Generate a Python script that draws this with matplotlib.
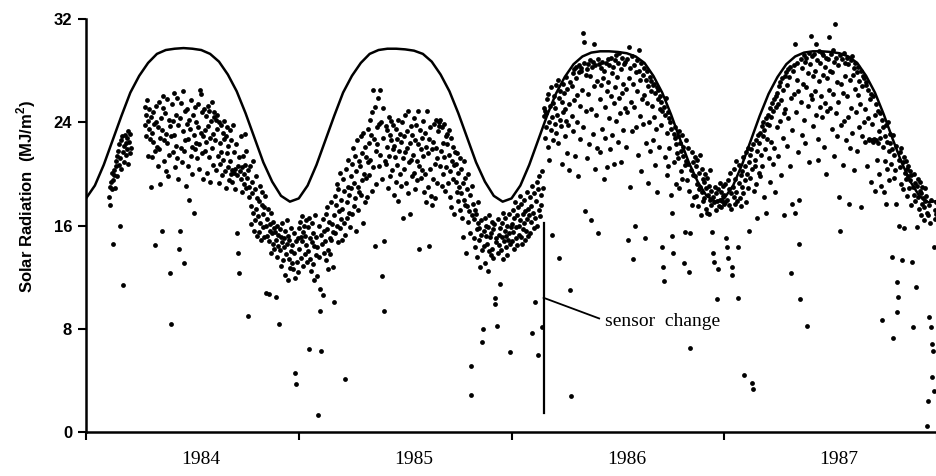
import numpy as np
import matplotlib.pyplot as plt

nan = np.nan

# daily solar radiation (MJ/m2)
# 1984 starts on day 40 (10 Feb); gap in late March / early April
rad_1984 = [
    18.2, 17.6, 19.0, 19.4, 18.8, 20.1, 14.6, 19.5, 20.3, 19.9, 18.9, 21.0, 20.6, 19.8, 21.4,
    21.8, 20.7, 22.3, 16.0, 21.2, 22.6, 20.4, 22.9, 11.4, 21.7, 22.2, 20.9, 23.0, 21.5, 22.4,
    22.8, 21.9, 23.3, 20.8, 22.5, 21.6, 23.1, 22.0, nan, nan, nan, nan, nan, nan, nan,
    nan, nan, nan, nan, nan, nan, nan, nan, nan, nan, nan, nan, nan, nan, nan,
    nan, 23.8, 25.2, 24.6, 22.9, 25.7, 24.1, 21.4, 23.5, 25.0, 22.7, 19.0, 24.4, 23.2, 21.3,
    22.5, 24.8, 23.9, 14.5, 21.8, 25.3, 24.0, 22.1, 20.6, 23.6, 25.6, 21.9, 19.2, 22.8, 24.3,
    23.4, 15.6, 25.1, 26.0, 22.6, 21.0, 24.7, 23.1, 20.2, 25.8, 22.4, 19.8, 24.2, 21.5, 23.7,
    12.3, 22.9, 8.4, 25.4, 24.1, 21.7, 26.3, 23.0, 20.5, 24.6, 22.2, 25.9, 21.2, 23.8, 19.6,
    14.2, 15.6, 24.3, 22.0, 25.5, 20.9, 26.4, 23.3, 13.1, 21.8, 24.9, 22.6, 19.1, 23.9, 25.0,
    22.7, 20.6, 24.2, 18.0, 23.5, 21.4, 25.7, 22.1, 20.0, 24.6, 23.0, 17.0, 21.9, 25.2, 22.4,
    24.0, 21.2, 23.6, 25.4, 22.3, 20.4, 26.5, 26.2, 23.2, 21.6, 24.8, 22.9, 19.6, 25.0, 23.4,
    21.8, 24.5, 22.5, 20.1, 25.3, 23.7, 21.3, 24.9, 22.8, 19.4, 24.1, 22.0, 25.6, 23.1, 20.7,
    24.4, 24.8, 22.6, 24.2, 20.3, 23.5, 24.6, 21.4, 19.3, 24.0, 22.4, 20.8, 23.8, 21.7, 19.9,
    23.2, 21.1, 22.7, 24.1, 20.2, 18.9, 22.9, 21.6, 23.6, 20.5, 22.2, 19.5, 21.0, 23.4, 20.0,
    22.6, 20.3, 19.4, 23.8, 20.1, 21.7, 18.8, 20.4, 22.3, 19.9, 15.4, 13.9, 20.6, 12.3, 21.3,
    20.2, 19.6, 22.9, 20.5, 18.6, 21.4, 20.0, 19.2, 23.1, 20.7, 18.9, 21.8, 19.7, 9.0, 20.3,
    19.0, 18.2, 20.6, 17.5, 16.1, 19.4, 18.5, 21.0, 17.0, 15.6, 18.8, 16.4, 19.8, 17.3, 15.2,
    18.1, 16.7, 17.9, 15.5, 19.1, 16.2, 14.9, 17.6, 18.6, 15.9, 16.9, 15.1, 17.4, 18.3, 16.0,
    10.8, 16.5, 15.2, 17.3, 10.7, 14.8, 16.1, 15.6, 13.9, 17.0, 15.4, 14.6, 16.3, 15.8, 14.2,
    15.5, 10.5, 14.9, 16.0, 13.6, 15.3, 14.4, 8.4, 15.7, 14.1, 12.9, 15.1, 16.2, 14.7, 13.3,
    15.0, 14.3, 12.2, 15.6, 13.8, 16.4, 14.6, 11.8, 15.2, 13.4, 14.9, 12.7, 15.8, 14.0, 13.1,
    14.5, 12.6, 15.4, 13.9, 11.9, 4.6, 3.7, 14.8, 13.2, 15.0, 12.4,
]

rad_1985 = [
    15.8, 14.2, 16.3, 13.5, 15.1, 16.7, 14.8, 12.9, 15.5, 16.0, 13.8, 15.2, 14.5, 16.4, 13.2,
    15.9, 14.0, 6.4, 16.6, 13.4, 15.0, 12.5, 14.7, 16.2, 13.0, 15.4, 11.8, 14.4, 16.8, 13.7,
    15.1, 14.3, 12.1, 1.3, 16.0, 13.6, 11.1, 9.4, 15.3, 6.3, 14.6, 10.6, 16.5, 13.9, 15.6,
    14.8, 16.9, 13.3, 15.7, 17.4, 14.1, 12.6, 16.3, 15.0, 13.8, 17.8, 14.9, 16.1, 12.8, 15.5,
    10.1, 16.8, 18.3, 15.4, 17.6, 19.2, 16.0, 14.7, 18.8, 17.1, 15.8, 20.1, 16.5, 18.0, 14.9,
    17.3, 19.6, 16.2, 18.7, 15.3, 4.1, 20.4, 17.8, 16.6, 19.0, 21.1, 17.0, 18.4, 15.9, 19.8,
    18.9, 20.8, 16.9, 22.0, 19.3, 17.5, 21.4, 18.1, 15.6, 20.2, 22.6, 19.0, 17.2, 21.0, 18.6,
    20.6, 22.9, 18.4, 21.6, 19.5, 16.2, 23.2, 20.0, 17.8, 22.1, 19.7, 21.3, 18.2, 23.5, 20.9,
    22.4, 19.9, 24.2, 21.1, 23.0, 18.7, 24.8, 20.5, 26.5, 22.7, 14.4, 25.2, 21.8, 19.2, 23.6,
    22.3, 25.9, 20.6, 23.9, 26.5, 21.5, 24.0, 19.6, 12.1, 22.8, 25.1, 9.4, 14.8, 21.0, 23.7,
    20.8, 23.4, 22.1, 18.9, 24.4, 21.4, 23.0, 19.8, 22.6, 24.1, 20.3, 21.9, 23.8, 18.4, 22.2,
    21.3, 23.5, 19.4, 22.7, 20.7, 24.2, 17.9, 21.8, 23.1, 20.0, 22.5, 19.1, 24.0, 21.2, 16.6,
    22.9, 20.4, 24.6, 21.7, 19.3, 23.3, 22.0, 18.5, 24.9, 20.9, 22.4, 16.9, 23.7, 21.1, 19.8,
    23.0, 21.5, 24.3, 20.1, 22.6, 18.8, 23.8, 21.0, 19.5, 24.9, 22.3, 14.2, 20.6, 23.4, 21.9,
    19.7, 22.8, 20.3, 24.1, 21.4, 18.6, 23.2, 20.0, 22.1, 17.8, 24.9, 21.6, 19.0, 14.4, 22.7,
    20.4, 23.6, 18.3, 21.9, 17.6, 22.5, 19.6, 23.9, 20.8, 18.1, 22.0, 24.2, 19.3, 21.2, 23.3,
    24.0, 23.7, 20.6, 24.2, 21.8, 19.1, 23.6, 22.4, 20.0, 23.9, 21.3, 18.7, 22.9, 20.5, 23.1,
    22.3, 19.3, 21.5, 23.4, 20.2, 18.2, 22.8, 17.4, 21.0, 19.6, 22.1, 20.7, 16.9, 21.7, 19.4,
    20.8, 18.6, 21.6, 17.9, 20.1, 19.0, 21.2, 17.2, 18.5, 20.4, 16.6, 19.3, 15.1, 21.0, 18.0,
    17.6, 19.7, 13.9, 17.5, 18.8, 16.3, 20.0, 17.1, 15.4, 18.4, 5.1, 2.9, 16.8, 19.1, 17.7,
    16.5, 15.0, 17.2, 14.3, 16.9, 15.7, 13.6, 16.2, 17.8, 14.9, 15.8, 12.8, 16.4, 15.3, 14.1,
    7.0, 8.0, 15.6, 14.4, 16.6, 13.1, 15.2, 16.0, 14.6, 12.5, 15.9, 14.0, 16.8, 15.1, 13.7,
    15.4, 16.3, 14.2, 15.7, 13.5, 16.1, 10.4, 9.9, 15.0, 14.7, 8.2, 16.5, 13.9, 15.3, 14.5,
    11.5, 15.8, 14.1, 16.2, 15.1, 13.4, 17.0, 14.8, 15.6, 16.6, 14.3, 15.2, 13.7, 16.0, 14.9,
    15.4, 16.9, 6.2, 14.6, 15.9,
]

rad_1986 = [
    16.1, 14.8, 17.2, 15.5, 16.6, 14.2, 17.8, 15.9, 15.0, 16.8, 14.5, 17.4, 16.0, 15.3, 18.3,
    16.4, 15.1, 17.7, 14.6, 16.9, 15.7, 18.0, 16.2, 14.9, 17.1, 15.6, 16.5, 18.6, 15.2, 17.3,
    16.8, 18.2, 15.4, 17.5, 16.3, 19.1, 7.7, 17.0, 15.8, 18.5, 16.6, 10.1, 17.9, 19.4, 16.0,
    18.8, 6.0, 17.2, 19.8, 16.7, 18.4, 17.6, 20.2, 8.1, 18.9, 24.5, 25.1, 22.8, 24.9, 23.6,
    24.7, 25.8, 22.1, 26.2, 24.0, 21.1, 25.3, 23.4, 26.7, 24.4, 15.3, 25.5, 22.6, 26.0, 23.9,
    25.1, 26.9, 23.2, 24.6, 27.3, 22.4, 25.9, 13.5, 24.2, 26.4, 23.7, 20.8, 25.6, 27.0, 24.8,
    26.3, 22.9, 25.0, 27.5, 24.1, 21.6, 26.6, 23.8, 25.4, 20.3, 27.1, 11.0, 2.8, 24.5, 26.8,
    27.8, 23.3, 28.1, 25.7, 21.4, 27.4, 28.3, 24.0, 26.1, 19.8, 27.9, 28.4, 22.7, 25.3, 28.0,
    28.2, 26.5, 23.6, 30.9, 30.2, 28.6, 17.1, 27.7, 24.9, 28.1, 21.2, 28.5, 26.2, 22.3, 28.8,
    27.6, 25.0, 16.4, 28.3, 23.1, 28.7, 26.8, 30.1, 20.4, 28.4, 24.6, 27.2, 22.0, 28.9, 15.4,
    28.5, 25.8, 21.7, 28.2, 26.9, 23.5, 28.7, 27.4, 19.6, 28.0, 25.2, 22.8, 28.6, 26.4, 20.5,
    28.9, 27.1, 24.3, 28.4, 21.9, 26.0, 29.0, 27.8, 23.0, 28.3, 25.5, 20.8, 28.8, 26.7, 24.1,
    29.2, 27.5, 22.5, 28.6, 25.9, 29.4, 24.7, 20.9, 28.1, 26.3, 29.0, 23.4, 27.0, 28.5, 25.1,
    28.7, 26.6, 22.1, 28.9, 24.8, 14.9, 27.4, 29.8, 19.0, 28.2, 25.6, 23.3, 29.1, 27.0, 13.4,
    28.4, 25.2, 16.0, 27.9, 23.6, 28.8, 26.4, 21.5, 28.0, 29.6, 24.5, 27.3, 20.2, 28.6, 25.8,
    27.7, 23.9, 28.2, 26.1, 15.0, 27.3, 22.4, 25.5, 28.0, 19.3, 26.8, 24.0, 27.5, 21.8, 26.4,
    27.2, 25.3, 22.6, 26.9, 24.4, 27.0, 20.7, 26.3, 23.5, 26.7, 18.6, 25.8, 26.5, 22.1, 25.0,
    26.0, 23.8, 25.6, 24.9, 14.3, 12.8, 11.7, 25.2, 21.3, 24.6, 25.9, 19.9, 23.2, 24.8, 20.6,
    24.3, 22.0, 24.0, 18.4, 23.5, 17.0, 15.2, 13.9, 23.1, 20.9, 22.8, 23.6, 19.2, 22.3, 21.6,
    22.9, 21.2, 23.3, 18.9, 22.4, 20.2, 21.8, 23.0, 19.6, 22.1, 21.4, 13.1, 15.5, 20.7, 22.6,
    21.0, 19.5, 20.8, 22.0, 12.4, 18.7, 15.4, 6.5, 20.3, 21.7, 17.6, 19.9, 20.9, 18.2, 21.3,
    19.8, 20.6, 18.3, 21.1, 19.2, 17.5, 20.1, 18.8, 21.5, 19.0, 16.8, 20.4, 18.6, 19.6, 17.9,
    19.4, 18.1, 20.0, 17.3, 18.9, 17.0, 19.7, 18.4, 16.9, 19.1, 18.0, 20.3, 17.6, 18.7, 15.5,
    13.9, 18.2, 13.2, 17.8, 19.0, 17.2, 18.5, 10.3, 17.9, 12.6, 18.8, 17.5, 19.3, 18.0, 17.4,
    18.6, 17.9, 19.1, 18.3, 17.7,
]

rad_1987 = [
    18.4, 17.8, 19.2, 15.0, 18.0, 14.3, 13.5, 19.5, 17.6, 18.8, 20.1, 17.3, 18.5, 12.8, 12.2,
    19.0, 18.2, 20.4, 17.7, 19.6, 18.6, 21.0, 17.9, 14.3, 10.4, 19.3, 20.7, 18.1, 19.9, 17.5,
    20.2, 19.0, 21.3, 18.5, 4.4, 20.6, 19.5, 21.7, 17.8, 20.0, 22.0, 18.9, 20.9, 15.6, 21.5,
    19.7, 21.9, 20.4, 3.8, 3.3, 22.3, 18.7, 21.1, 20.6, 22.6, 19.2, 21.8, 16.6, 23.0, 20.1,
    22.4, 23.2, 19.8, 21.5, 23.7, 20.6, 22.9, 24.0, 18.2, 23.4, 21.9, 24.3, 17.0, 22.7, 23.9,
    24.6, 21.2, 23.8, 25.1, 19.4, 24.4, 22.5, 25.5, 20.8, 24.9, 25.8, 22.0, 18.6, 25.2, 26.0,
    23.6, 26.3, 25.4, 21.4, 26.8, 24.1, 27.1, 19.9, 25.7, 27.4, 22.8, 26.5, 24.7, 16.8, 27.6,
    25.0, 27.9, 22.2, 26.9, 28.1, 24.3, 27.5, 20.6, 28.3, 25.9, 12.3, 23.4, 17.7, 28.0, 26.2,
    28.4, 17.0, 30.1, 24.8, 27.3, 28.6, 21.7, 26.4, 18.0, 14.6, 10.3, 28.9, 25.6, 23.0, 28.2,
    27.0, 29.2, 24.2, 28.7, 22.4, 26.7, 29.0, 8.2, 27.8, 25.3, 29.4, 20.9, 28.5, 26.1, 30.7,
    29.1, 25.8, 27.6, 23.7, 29.3, 28.0, 26.4, 30.1, 24.6, 28.8, 22.7, 21.1, 29.5, 27.2, 25.2,
    28.6, 26.0, 29.4, 24.4, 27.7, 29.2, 22.1, 28.3, 25.5, 29.0, 20.0, 27.4, 24.9, 28.9, 26.5,
    30.6, 28.0, 25.1, 29.3, 23.5, 27.9, 29.6, 26.2, 21.4, 28.7, 31.6, 24.7, 29.0, 27.1, 22.9,
    28.4, 25.6, 18.2, 29.2, 15.6, 27.0, 23.8, 28.9, 26.3, 20.7, 29.4, 24.1, 27.6, 28.6, 22.6,
    29.0, 26.0, 24.4, 28.5, 17.7, 27.3, 22.0, 28.8, 25.1, 29.1, 23.2, 27.7, 28.2, 20.3, 26.6,
    28.6, 24.8, 27.9, 21.8, 26.1, 28.3, 23.6, 27.2, 25.4, 28.0, 17.4, 22.9, 26.8, 27.6, 24.0,
    27.4, 25.0, 22.5, 26.9, 27.1, 20.6, 24.3, 26.5, 22.6, 22.7, 25.8, 19.4, 26.2, 23.9, 22.6,
    22.5, 26.0, 22.7, 24.6, 18.7, 22.6, 25.4, 21.1, 24.9, 22.4, 23.3, 20.0, 24.7, 22.8, 19.1,
    24.2, 8.7, 22.1, 23.6, 18.6, 22.9, 21.0, 23.8, 17.7, 20.4, 22.5, 24.0, 19.5, 21.8, 23.1,
    22.4, 20.8, 21.9, 13.6, 23.0, 7.3, 19.7, 21.5, 20.3, 22.2, 17.7, 9.3, 11.6, 10.5, 21.1,
    16.0, 20.5, 21.7, 19.2, 22.0, 13.3, 20.9, 18.8, 21.3, 15.8, 20.1, 19.6, 21.0, 18.3, 20.4,
    19.8, 20.6, 18.9, 19.5, 20.2, 17.6, 19.9, 13.2, 8.1, 19.0, 18.4, 20.0, 17.9, 19.3, 11.2,
    15.9, 19.1, 18.2, 19.6, 17.3, 18.7, 19.4, 16.8, 18.5, 17.7, 19.0, 18.1, 16.4, 17.4, 18.9,
    17.9, 18.3, 17.0, 0.5, 16.8, 2.4, 17.6, 8.9, 16.2, 18.0, 8.1, 4.3, 6.8, 6.3, 3.2,
    14.3, 17.2, 16.5, 17.8, 16.9,
]

# (year, first day of year in the list, days in year, values)
series = [
    (1984, 40, 366, rad_1984),
    (1985, 0, 365, rad_1985),
    (1986, 0, 365, rad_1986),
    (1987, 0, 365, rad_1987),
]

# clear-sky curve, read twice a month from 1 Jan 1984 to 1 Jan 1988
clear_sky = [
    18.1, 19.1, 20.7, 22.6, 24.5, 26.3, 27.6, 28.6, 29.3, 29.6, 29.7, 29.75,
    29.7, 29.6, 29.3, 28.7, 27.7, 26.4, 24.7, 22.8, 20.9, 19.4, 18.3, 17.85,
    18.1, 19.1, 20.7, 22.6, 24.5, 26.3, 27.6, 28.6, 29.3, 29.6, 29.7, 29.7,
    29.65, 29.55, 29.3, 28.7, 27.7, 26.4, 24.7, 22.8, 20.9, 19.4, 18.3, 17.85,
    18.1, 19.1, 20.7, 22.6, 24.5, 26.2, 27.5, 28.5, 29.1, 29.4, 29.5, 29.5,
    29.45, 29.35, 29.1, 28.6, 27.6, 26.3, 24.6, 22.7, 20.9, 19.4, 18.3, 17.85,
    18.1, 19.1, 20.7, 22.6, 24.5, 26.2, 27.5, 28.5, 29.1, 29.4, 29.5, 29.5,
    29.45, 29.35, 29.1, 28.6, 27.6, 26.3, 24.6, 22.7, 20.9, 19.4, 18.3, 17.8,
    17.9,
]

years = [1984, 1985, 1986, 1987]
sensor_change = 1986.151  # 25 Feb 1986


def main():
    plt.rcParams['mathtext.fontset'] = 'custom'
    plt.rcParams['mathtext.rm'] = 'Liberation Sans:bold'

    fig = plt.figure(figsize=(9.37, 4.76), dpi=100)
    ax = fig.add_axes([0.0918, 0.0924, 0.9082, 0.8676])

    for year, first, ndays, vals in series:
        vals = np.array(vals, dtype=float)
        x = year + (first + np.arange(len(vals))) / ndays
        ax.scatter(x, vals, s=12, c='black', linewidths=0, zorder=3)

    xc = 1984 + np.arange(len(clear_sky)) / 24
    ax.plot(xc, clear_sky, color='black', lw=1.8, zorder=2)

    # sensor change marker
    ax.plot([sensor_change, sensor_change], [1.45, 16.2], color='black', lw=1.6)
    ax.plot([sensor_change, 1986.412], [10.4, 8.8], color='black', lw=1.3)
    ax.text(1986.44, 8.55, 'sensor  change', family='Liberation Serif',
            fontsize=14, va='center', ha='left')

    ax.set_xlim(1984, 1988)
    ax.set_ylim(0, 32)
    ax.set_yticks([0, 8, 16, 24, 32])
    ax.set_xticks([1984, 1985, 1986, 1987, 1988])
    ax.set_xticklabels([])
    ax.set_xticks([y + 0.54 for y in years], minor=True)
    ax.set_xticklabels([str(y) for y in years], minor=True,
                       family='Liberation Serif', fontsize=14)
    ax.tick_params(axis='x', which='minor', length=0, pad=14)
    ax.tick_params(axis='x', which='major', length=6, width=1.5, direction='out')
    ax.tick_params(axis='y', length=6, width=1.5, direction='out', pad=4)
    for lab in ax.get_yticklabels():
        lab.set_family('Liberation Sans')
        lab.set_fontsize(12)
        lab.set_fontweight('bold')

    ax.spines['top'].set_visible(False)
    ax.spines['right'].set_visible(False)
    ax.spines['left'].set_linewidth(1.8)
    ax.spines['bottom'].set_linewidth(1.8)

    ax.set_ylabel('Solar Radiation  (MJ/m$^2$)', family='Liberation Sans',
                  fontsize=12, fontweight='bold')
    ax.yaxis.set_label_coords(-0.0564, 0.571)

    fig.savefig('out.png', dpi=100)


if __name__ == '__main__':
    main()
